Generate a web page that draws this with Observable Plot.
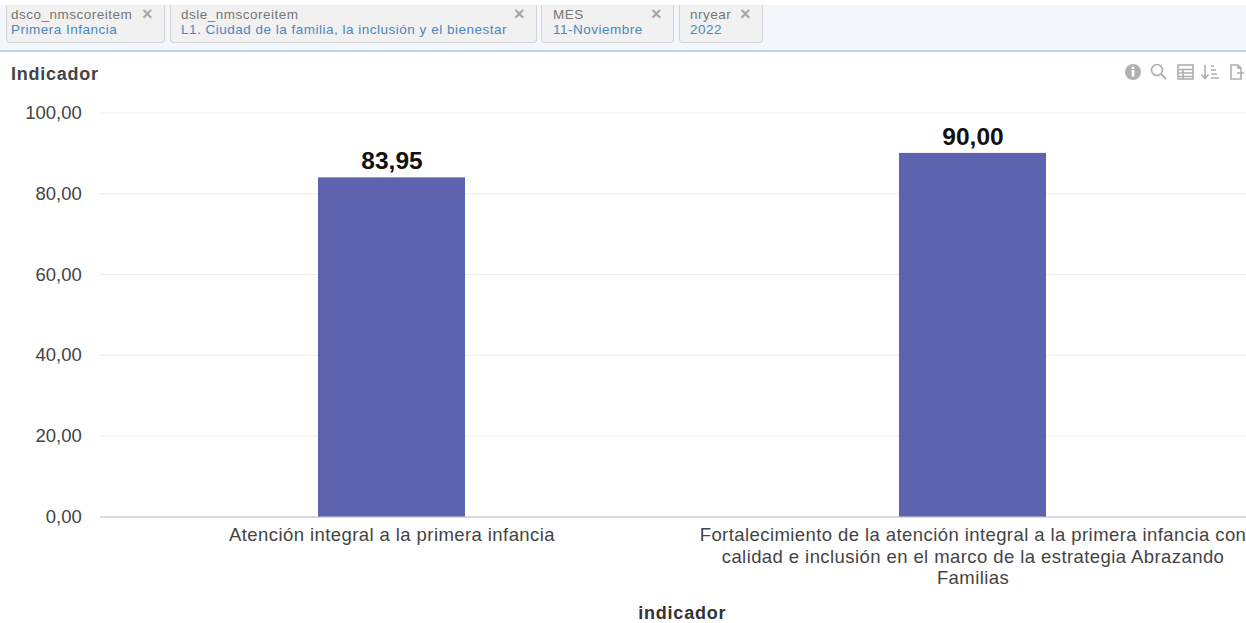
<!DOCTYPE html>
<html><head><meta charset="utf-8">
<script src="https://cdn.jsdelivr.net/npm/d3@7"></script>
<script src="https://cdn.jsdelivr.net/npm/@observablehq/plot@0.6"></script>
<style>
html,body{margin:0;padding:0;background:#fff;width:1246px;height:623px;overflow:hidden;font-family:"Liberation Sans",Arial,sans-serif}
#bar{position:absolute;left:0;top:5px;width:1246px;height:45px;background:#f3f6fa;border-bottom:2px solid #b9d3ea}
.chip{position:absolute;top:0;height:38px;background:#f1f1f1;border:1px solid #d4d4d4;border-top:none;border-radius:0 0 4px 4px;box-sizing:border-box;font-size:13.5px;line-height:15px;padding:2px 0 0 0;white-space:nowrap;letter-spacing:.5px}
.chip .k{color:#757575;display:block}
.chip .v{color:#4a86c0;display:block}
.chip .x{position:absolute;top:0;color:#a6a6a6;font-size:18px;font-weight:bold;letter-spacing:0;line-height:18px}
#title{position:absolute;left:11px;top:64px;font-size:18px;font-weight:bold;color:#444;letter-spacing:.75px}
#icons{position:absolute;left:1124px;top:63px;width:122px;height:18px;overflow:hidden}
#chart{position:absolute;left:0;top:90px;width:1246px;height:533px;overflow:hidden}
#chart svg{max-width:none}
#chart g[aria-label="x-axis tick label"]{letter-spacing:.42px}
#chart .xname{letter-spacing:.8px}
</style></head><body>
<div id="bar"></div>
<div id="chart"></div>
<div id="title">Indicador</div>
<div id="icons"><svg width="122" height="18" fill="none" stroke="#b0b0b0" stroke-width="1.6">
<circle cx="9" cy="9" r="8" fill="#b0b0b0" stroke="none"/><rect x="7.6" y="7" width="2.8" height="6.5" fill="#fff" stroke="none"/><rect x="7.6" y="3.6" width="2.8" height="2.4" fill="#fff" stroke="none"/>
<circle cx="33" cy="7" r="5.5"/><path d="M37 11l5 5" stroke-width="2"/>
<rect x="54" y="2" width="15" height="14"/><path d="M54 6.500h15M54 10h15M54 13.500h15M59 6.500v10"/>
<path d="M81 2v13M77.500 11.500l3.500 4 3.500-4M87 3h3M87 7h5M87 11h6M87 15h8"/>
<path d="M107 2h7l3 3v11h-10zM114 2v3h3M113 10h7"/></svg></div>
<script>
const categories = ["Atención integral a la primera infancia", "Fortalecimiento de la atención integral a la primera infancia con calidad e inclusión en el marco de la estrategia Abrazando Familias"];
const tickLines = [["Atención integral a la primera infancia"], ["Fortalecimiento de la atención integral a la primera infancia con", "calidad e inclusión en el marco de la estrategia Abrazando", "Familias"]];
const values = [83.95, 90.00];
const yTicks = [0, 20, 40, 60, 80, 100];
const filterKeys = ["dsco_nmscoreitem", "dsle_nmscoreitem", "MES", "nryear"];
const filterValues = ["Primera Infancia", "L1. Ciudad de la familia, la inclusión y el bienestar", "11-Noviembre", "2022"];
const chipLayout = [[6,159,4,136],[170,367,10,344],[541,133,11,110],[679,84,10,61]];

const fmt = d => d3.format(".2f")(d).replace(".", ",");
const rows = categories.map((c, i) => ({c, v: values[i]}));
const barEl = document.getElementById("bar");
filterKeys.forEach((k, i) => {
  const [l, w, pad, xp] = chipLayout[i];
  const d = document.createElement("div");
  d.className = "chip"; d.style.left = l + "px"; d.style.width = w + "px"; d.style.paddingLeft = pad + "px";
  d.innerHTML = `<span class="k">${k}</span><span class="v">${filterValues[i]}</span><span class="x" style="left:${xp-1}px">×</span>`;
  barEl.appendChild(d);
});
const chart = Plot.plot({
  width: 1364, height: 533,
  marginLeft: 100.25, marginRight: 100.75, marginTop: 22.5, marginBottom: 106.5,
  style: {background: "transparent", fontFamily: '"Liberation Sans", Arial, sans-serif', maxWidth: "none"},
  x: {domain: categories, paddingInner: 0.747, paddingOuter: 0.3735, label: null},
  y: {domain: [0, 100], label: null},
  marks: [
    Plot.gridY(yTicks, {stroke: "#ececec", strokeWidth: 1, strokeOpacity: 1}),
    Plot.ruleY([0], {stroke: "#d9d9d9", strokeWidth: 2}),
    Plot.barY(rows, {x: "c", y: "v", fill: "#5d63ae"}),
    Plot.text(rows, {x: "c", y: "v", text: d => fmt(d.v), dy: -16.5, fontSize: 24.5, fontWeight: "bold", fill: "#111"}),
    Plot.axisY(yTicks, {tickFormat: fmt, tickSize: 0, tickPadding: 19, fontSize: 18.5, fill: "#444", label: null}),
    Plot.axisX({tickFormat: d => tickLines[categories.indexOf(d)].join("\n"), tickSize: 0, tickPadding: 9, fontSize: 18.5, fill: "#444", lineHeight: 1.16, label: null}),
    Plot.text(["indicador"], {frameAnchor: "bottom", dy: 102, fontSize: 18, fontWeight: "bold", fill: "#333", className: "xname"})
  ]
});
document.getElementById("chart").appendChild(chart);
</script>
</body></html>
